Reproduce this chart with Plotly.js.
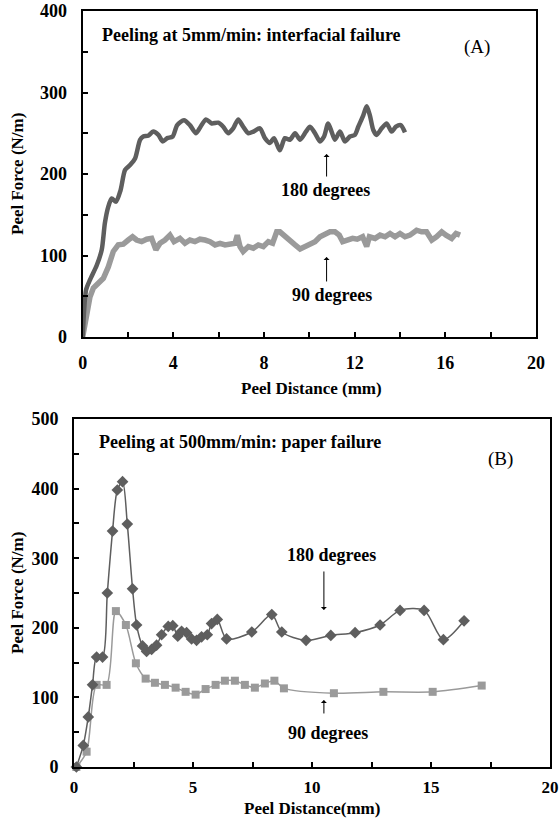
<!DOCTYPE html>
<html>
<head>
<meta charset="utf-8">
<script src="https://cdn.plot.ly/plotly-3.0.1.min.js"></script>
<style>html,body{margin:0;padding:0;background:#fff;}#chart{width:560px;height:819px;}</style>
</head>
<body>
<div id="chart"></div>
<script>
// ---- Panel A: 5 mm/min ----
const a180X = [0,0.15,0.32,0.62,0.84,0.98,1.13,1.28,1.47,1.67,1.87,2.09,2.31,2.53,2.67,2.89,3.11,3.34,3.53,3.73,3.97,4.17,4.47,4.73,5.0,5.2,5.44,5.69,5.98,6.2,6.42,6.64,6.86,7.08,7.31,7.53,7.82,8.04,8.26,8.44,8.7,8.92,9.14,9.37,9.59,9.85,10.03,10.25,10.47,10.65,10.83,10.98,11.13,11.35,11.57,11.79,12.01,12.16,12.38,12.53,12.67,12.82,12.97,13.19,13.41,13.63,13.82,14.03,14.22];
const a180Y = [0,58,70,88,107,140,160,170,166,180,205,211,219,242,246,247,252,248,240,244,246,260,266,260,250,258,267,262,263,258,250,256,267,258,250,252,256,244,238,244,229,244,242,250,242,252,258,250,240,246,262,252,242,252,240,246,248,258,272,283,272,254,248,256,262,252,258,260,251];
const a90X = [0,0.2,0.32,0.47,0.69,0.91,1.13,1.35,1.57,1.79,2.01,2.2,2.38,2.6,2.82,3.04,3.23,3.41,3.63,3.85,4.03,4.29,4.51,4.73,4.95,5.17,5.4,5.62,5.84,6.06,6.28,6.5,6.72,6.82,6.94,7.08,7.31,7.53,7.75,7.97,8.19,8.38,8.56,8.7,8.92,9.15,9.37,9.59,9.81,10.03,10.25,10.47,10.69,10.91,11.13,11.32,11.47,11.67,11.91,12.11,12.35,12.53,12.65,12.9,13.12,13.34,13.56,13.78,14.0,14.22,14.44,14.73,14.95,15.17,15.4,15.61,15.84,16.03,16.28,16.47,16.65];
const a90Y = [0,29,49,60,66,72,86,105,113,114,119,123,119,117,120,121,107,115,119,125,117,121,115,119,117,120,119,117,113,115,113,114,115,125,111,105,111,109,113,111,117,115,129,129,123,119,113,108,111,113,117,123,127,129,129,125,117,119,121,120,123,111,123,121,125,123,127,123,127,123,125,131,129,129,119,123,129,125,121,127,125];

// ---- Panel B: 500 mm/min ----
const b180X = [0.1,0.39,0.6,0.78,0.95,1.2,1.4,1.62,1.82,2.04,2.24,2.46,2.63,2.88,3.05,3.26,3.47,3.68,3.96,4.15,4.36,4.52,4.73,4.94,5.15,5.36,5.6,5.78,6.02,6.41,7.47,8.31,8.73,9.75,10.79,11.81,12.86,13.7,14.71,15.52,16.39];
const b180Y = [0,31,72,118,158,158,250,339,398,410,349,256,204,174,166,169,175,190,202,203,188,195,193,184,182,187,190,206,212,184,194,219,194,182,189,193,204,225,225,183,210];
const b90X = [0.1,0.53,0.95,1.37,1.76,2.18,2.6,3.01,3.4,3.82,4.27,4.69,5.11,5.53,5.95,6.34,6.76,7.18,7.6,8.02,8.42,8.82,10.92,13.0,15.07,17.13];
const b90Y = [0,22,118,118,224,204,149,127,121,118,114,108,104,112,118,124,124,118,114,120,124,113,106,108,108,117];

// ---- Text ----
const titleA = "Peeling at 5mm/min: interfacial failure";
const titleB = "Peeling at 500mm/min: paper failure";
const yTitle = "Peel Force (N/m)";
const xTitleA = "Peel Distance (mm)";
const xTitleB = "Peel Distance(mm)";
const label180 = "180 degrees";
const label90 = "90 degrees";

const SERIF = "Liberation Serif, Times New Roman, serif";
const dark = "#5e5e5e", light = "#9a9a9a";

const traces = [
  {x:a90X, y:a90Y, xaxis:'x', yaxis:'y', mode:'lines', line:{color:light, width:5.5, shape:'linear'}, hoverinfo:'skip'},
  {x:a180X, y:a180Y, xaxis:'x', yaxis:'y', mode:'lines', line:{color:dark, width:4.5, shape:'spline', smoothing:0.7}, hoverinfo:'skip'},
  {x:b90X, y:b90Y, xaxis:'x2', yaxis:'y2', mode:'lines+markers', line:{color:light, width:1.5, shape:'spline', smoothing:0.8}, marker:{symbol:'square', size:8, color:light}, cliponaxis:false},
  {x:b180X, y:b180Y, xaxis:'x2', yaxis:'y2', mode:'lines+markers', line:{color:dark, width:1.5, shape:'spline', smoothing:0.8}, marker:{symbol:'diamond', size:9, color:dark}, cliponaxis:false}
];

function axisBase(extra){
  return Object.assign({
    showline:true, mirror:true, linecolor:'#000', linewidth:2,
    ticks:'inside', ticklen:5, tickwidth:2, tickcolor:'#000',
    showgrid:false, zeroline:false, fixedrange:true,
    tickfont:{family:SERIF, size:18, color:'#000', weight:'bold'}
  }, extra);
}

const bold = (s) => ({family:SERIF, size:s, color:'#000', weight:'bold'});

const layout = {
  width:560, height:819,
  margin:{l:0, r:0, t:0, b:0},
  paper_bgcolor:'#fff', plot_bgcolor:'#fff',
  showlegend:false,
  xaxis: axisBase({domain:[82.7/560, 536/560], range:[0,20], dtick:4, tick0:0, anchor:'y', ticklabelstandoff:8,
    minor:{dtick:2, ticks:'inside', ticklen:5, tickwidth:2, tickcolor:'#000', showgrid:false}}),
  yaxis: axisBase({domain:[1-337/819, 1-11/819], range:[0,400], dtick:100, anchor:'x', ticklabelstandoff:10,
    minor:{dtick:50, ticks:'inside', ticklen:5, tickwidth:2, tickcolor:'#000', showgrid:false}}),
  xaxis2: axisBase({domain:[74/560, 550/560], range:[0,20], dtick:5, tick0:0, anchor:'y2', ticklabelstandoff:4,
    tickfont:{family:SERIF, size:17, color:'#000', weight:'bold'},
    minor:{dtick:2.5, ticks:'inside', ticklen:5, tickwidth:2, tickcolor:'#000', showgrid:false}}),
  yaxis2: axisBase({domain:[1-767/819, 1-419/819], range:[0,500], dtick:100, anchor:'x2', ticklabelstandoff:10,
    minor:{dtick:50, ticks:'inside', ticklen:5, tickwidth:2, tickcolor:'#000', showgrid:false}}),
  annotations: [
    {xref:'x', yref:'y', x:0.76, y:370.6, xanchor:'left', yanchor:'middle', text:titleA, showarrow:false, font:bold(18)},
    {xref:'x', yref:'y', x:17.39, y:355.8, xanchor:'center', yanchor:'middle', text:'(A)', showarrow:false, font:{family:SERIF, size:19, color:'#000'}},
    {xref:'x', yref:'y', x:10.73, y:180.4, xanchor:'center', yanchor:'middle', text:label180, showarrow:false, font:bold(18)},
    {xref:'x', yref:'y', x:10.76, y:224.5, text:'', showarrow:true, ax:0, ay:24, arrowhead:1, arrowsize:1, arrowwidth:1, arrowcolor:'#000'},
    {xref:'x', yref:'y', x:11.0, y:51.5, xanchor:'center', yanchor:'middle', text:label90, showarrow:false, font:bold(18)},
    {xref:'x', yref:'y', x:10.76, y:98.2, text:'', showarrow:true, ax:0, ay:26, arrowhead:1, arrowsize:1, arrowwidth:1, arrowcolor:'#000'},
    {xref:'x2', yref:'y2', x:0.97, y:467, xanchor:'left', yanchor:'middle', text:titleB, showarrow:false, font:bold(18)},
    {xref:'x2', yref:'y2', x:17.9, y:442.5, xanchor:'center', yanchor:'middle', text:'(B)', showarrow:false, font:{family:SERIF, size:19, color:'#000'}},
    {xref:'x2', yref:'y2', x:10.84, y:304.6, xanchor:'center', yanchor:'middle', text:label180, showarrow:false, font:bold(18)},
    {xref:'x2', yref:'y2', x:10.5, y:225.6, text:'', showarrow:true, ax:0, ay:-40, arrowhead:1, arrowsize:1, arrowwidth:1, arrowcolor:'#000'},
    {xref:'x2', yref:'y2', x:10.67, y:48.9, xanchor:'center', yanchor:'middle', text:label90, showarrow:false, font:bold(18)},
    {xref:'x2', yref:'y2', x:10.5, y:96.3, text:'', showarrow:true, ax:0, ay:15, arrowhead:1, arrowsize:1, arrowwidth:1, arrowcolor:'#000'},
    {xref:'paper', yref:'paper', x:17/560, y:1-174/819, xanchor:'center', yanchor:'middle', text:yTitle, textangle:-90, showarrow:false, font:bold(17)},
    {xref:'paper', yref:'paper', x:17/560, y:1-593/819, xanchor:'center', yanchor:'middle', text:yTitle, textangle:-90, showarrow:false, font:bold(17)},
    {xref:'paper', yref:'paper', x:311/560, y:1-388/819, xanchor:'center', yanchor:'middle', text:xTitleA, showarrow:false, font:bold(17)},
    {xref:'paper', yref:'paper', x:312/560, y:1-808/819, xanchor:'center', yanchor:'middle', text:xTitleB, showarrow:false, font:bold(17)}
  ]
};

Plotly.newPlot('chart', traces, layout, {staticPlot:true, displayModeBar:false});
</script>
</body>
</html>
